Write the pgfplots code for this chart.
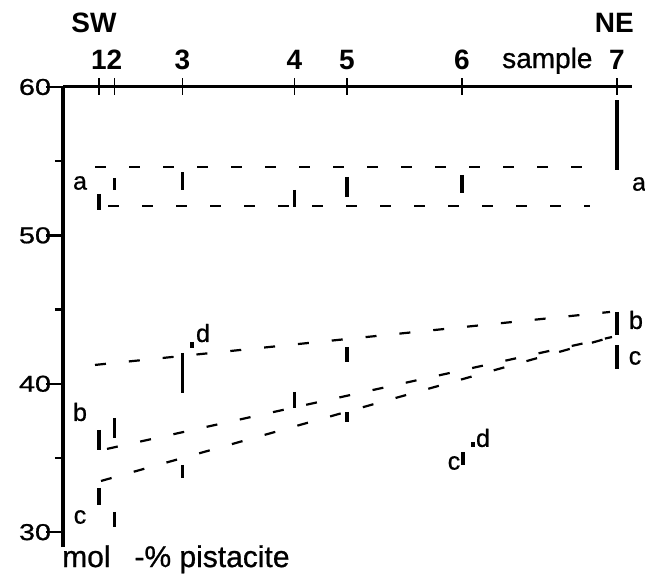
\documentclass[border=0pt]{standalone}
\usepackage{fontspec}
\setmainfont{Liberation Sans}
\newfontfamily\mfont{Liberation Sans}[FakeBold=0.8]
\usepackage{graphicx}
\usepackage{pgfplots}
\pgfplotsset{compat=1.18}
\usepackage{pgfplotstable}

% vertical range bars: x (position along profile), y (mol-% pistacite); nan separates bars
\pgfplotstableread{
x y
99 52.8
99 51.7
nan nan
114.5 53.87
114.5 53.06
nan nan
182.5 54.27
182.5 53.06
nan nan
294.5 53.06
294.5 51.91
nan nan
347 53.94
347 52.59
nan nan
462 54.07
462 52.86
nan nan
617 59.12
617 54.41
}\barsA
\pgfplotstableread{
x y
99 36.89
99 35.54
nan nan
114.5 37.70
114.5 36.35
nan nan
182.5 42.08
182.5 39.38
nan nan
192 42.82
192 42.41
nan nan
294.5 39.45
294.5 38.37
nan nan
347 42.48
347 41.47
nan nan
617 44.84
617 43.29
}\barsB
\pgfplotstableread{
x y
99 32.98
99 31.83
nan nan
114.5 31.36
114.5 30.35
nan nan
182.5 34.53
182.5 33.65
nan nan
347 38.10
347 37.43
nan nan
463 35.40
463 34.53
nan nan
473 36.08
473 35.74
nan nan
617 42.61
617 40.98
}\barsC

\begin{document}
\begin{tikzpicture}
\useasboundingbox (0,0) rectangle (645bp,575bp);
\begin{axis}[
  at={(63bp,28bp)}, anchor=south west,
  scale only axis, width=569bp, height=460bp,
  xmin=63, xmax=632, ymin=29.0, ymax=60,
  axis x line*=top, axis y line*=left,
  axis line style={line width=3bp, -},
  clip=false,
  unbounded coords=jump,
  xtick={99,114.5,182.5,294.5,347,462,617},
  xticklabels={1,2,3,4,5,6,7},
  ytick={30,40,50,60},
  minor ytick={35,45,55},
  tick align=center,
  major tick length=17bp,
  minor tick length=8bp,
  major x tick style={line width=1.8bp, black},
  major y tick style={line width=2.4bp, black, xshift=-8.5bp},
  minor y tick style={line width=2.4bp, black, xshift=-4bp},
  xticklabel style={font=\fontsize{28bp}{30bp}\selectfont\bfseries, anchor=base, inner sep=0pt, yshift=9bp},
  yticklabel={\scalebox{1.25}[1]{\mfont\fontsize{23bp}{26bp}\selectfont\pgfmathprintnumber[assume math mode=true]{\tick}}},
  bar/.style={black, line width=3.2bp},
  dl/.style={black, line width=2.2bp, dash pattern=on 11bp off 23bp},
]
\addplot[bar] table {\barsA};
\addplot[bar] table {\barsB};
\addplot[bar] table {\barsC};
% dashed trend lines
\addplot[dl] coordinates {(95,54.61) (582,54.61)};
\addplot[dl] coordinates {(108,51.98) (590,51.98)};
\addplot[dl] coordinates {(95,41.27) (610,44.84)};
\addplot[dl] coordinates {(107,35.61) (612,43.15)};
\addplot[dl] coordinates {(101,33.45) (612,43.15)};
% labels
\begin{scope}[every node/.style={inner sep=0pt, font=\mfont\fontsize{25bp}{28bp}\selectfont}]
\node at (axis cs:80,53.53) {a};
\node at (axis cs:639,53.46) {a};
\node at (axis cs:80,38.10) {b};
\node at (axis cs:80,31.02) {c};
\node at (axis cs:636,44.30) {b};
\node at (axis cs:635,41.74) {c};
\node at (axis cs:203,43.42) {d};
\node at (axis cs:454,34.66) {c};
\node at (axis cs:483,36.35) {d};
\end{scope}
\node[inner sep=0pt, anchor=base, font=\fontsize{28bp}{30bp}\selectfont\bfseries] at (axis cs:94,63.64) {SW};
\node[inner sep=0pt, anchor=base east, font=\fontsize{28bp}{30bp}\selectfont\bfseries] at (axis cs:634,63.64) {NE};
\node[inner sep=0pt, anchor=base west, font=\mfont\fontsize{28bp}{30bp}\selectfont] at (axis cs:502,61.28) {sample};
\node[inner sep=0pt, anchor=base west, font=\mfont\fontsize{30bp}{32bp}\selectfont] at (axis cs:62,27.65) {mol\hspace{24bp}-\% pistacite};
\end{axis}
\end{tikzpicture}
\end{document}
